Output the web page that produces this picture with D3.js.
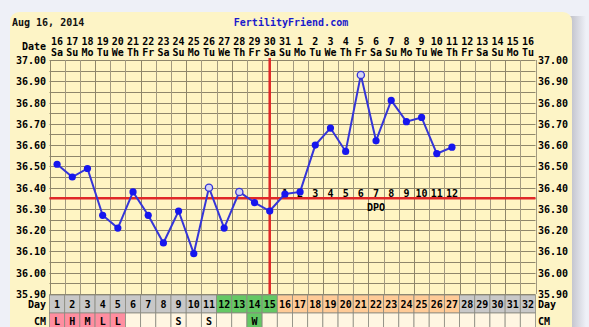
<!DOCTYPE html>
<html>
<head>
<meta charset="utf-8">
<script src="https://cdn.jsdelivr.net/npm/d3@7"></script>
<style>
  html, body { margin: 0; padding: 0; background: #eef0f7; }
  svg { display: block; }
  text { font-family: "DejaVu Sans Mono", monospace; font-weight: bold; font-size: 10px; }
</style>
</head>
<body>
<svg id="chart" width="589" height="327"></svg>
<script>
// Cycle chart data
const chartTitle = "Aug 16, 2014";
const siteName = "FertilityFriend.com";
const dateNums = ["16","17","18","19","20","21","22","23","24","25","26","27","28","29","30","31",
                  "1","2","3","4","5","6","7","8","9","10","11","12","13","14","15","16"];
const weekDays = ["Sa","Su","Mo","Tu","We","Th","Fr","Sa","Su","Mo","Tu","We","Th","Fr","Sa","Su",
                  "Mo","Tu","We","Th","Fr","Sa","Su","Mo","Tu","We","Th","Fr","Sa","Su","Mo","Tu"];
const cycleDays = d3.range(1, 33);
const temps = [36.51, 36.45, 36.49, 36.27, 36.21, 36.38, 36.27, 36.14, 36.29, 36.09,
               36.40, 36.21, 36.38, 36.33, 36.29, 36.37, 36.38, 36.60, 36.68, 36.57,
               36.93, 36.62, 36.81, 36.71, 36.73, 36.56, 36.59];
const hollowDays = [11, 13, 21];
const yTicks = [35.90, 36.00, 36.10, 36.20, 36.30, 36.40, 36.50, 36.60, 36.70, 36.80, 36.90, 37.00];
const coverline = 36.35;
const ovulationDay = 15;
const dpoNums = [1,2,3,4,5,6,7,8,9,10,11,12];
const dpoStartDay = 16;
const dayPhase = ["g","g","g","g","g","g","g","g","g","g","g","f","f","f","f",
                  "l","l","l","l","l","l","l","l","l","l","l","l","g","g","g","g","g"];
const cmCodes = ["L","H","M","L","L","","","","S","","S","","","W","","","","","","","","","","","","","","","","","",""];

const svg = d3.select("#chart");
const W = 589, H = 327;

// panel with soft right shadow
const defs = svg.append("defs");
const sh = defs.append("linearGradient").attr("id", "shadow").attr("x1", 0).attr("x2", 1);
sh.append("stop").attr("offset", 0).attr("stop-color", "#b9bac4");
sh.append("stop").attr("offset", 1).attr("stop-color", "#eef0f7");
svg.append("rect").attr("x", 568).attr("y", 16).attr("width", 18).attr("height", H).attr("fill", "url(#shadow)");
svg.append("rect").attr("x", 10).attr("y", 12).attr("width", 562).attr("height", H + 20)
  .attr("rx", 9).attr("fill", "#fdf4c6");

const x = d3.scaleLinear().domain([0, 32]).range([49.5, 535.5]);
const y = d3.scaleLinear().domain([35.9, 37.0]).range([294, 60]);
const colW = x(1) - x(0);

// header
svg.append("text").attr("x", 12).attr("y", 26).attr("fill", "#111").text(chartTitle);
svg.append("text").attr("x", 291).attr("y", 26).attr("text-anchor", "middle").attr("fill", "#1a1acc").text(siteName);

// date header
svg.append("text").attr("x", 46).attr("y", 50).attr("text-anchor", "end").text("Date");
svg.selectAll(".dnum").data(dateNums).join("text")
  .attr("x", (d, i) => x(i + 0.5)).attr("y", 45).attr("text-anchor", "middle").text(d => d);
svg.selectAll(".wday").data(weekDays).join("text")
  .attr("x", (d, i) => x(i + 0.5)).attr("y", 56).attr("text-anchor", "middle").text(d => d);

// plot background
svg.append("rect").attr("x", x(0)).attr("y", y(37.0)).attr("width", x(32) - x(0)).attr("height", y(35.9) - y(37.0))
  .attr("fill", "#fff5c3");

// grid
const hLines = d3.range(0, 23).map(i => 35.9 + i * 0.05);
svg.append("g").selectAll("line").data(hLines).join("line")
  .attr("x1", x(0)).attr("x2", x(32)).attr("y1", d => Math.round(y(d)) + 0.5).attr("y2", d => Math.round(y(d)) + 0.5)
  .attr("stroke", "#8f876b").attr("stroke-width", 1);
svg.append("g").selectAll("line").data(d3.range(0, 33)).join("line")
  .attr("x1", d => Math.round(x(d)) + 0.5).attr("x2", d => Math.round(x(d)) + 0.5)
  .attr("y1", y(37.0)).attr("y2", y(35.9))
  .attr("stroke", d => (d % 3 === 0 ? "#8f876b" : "#a39b80")).attr("stroke-width", 1);

// y axis labels
const fmt = d3.format(".2f");
svg.selectAll(".yl").data(yTicks).join("text")
  .attr("x", 46).attr("y", d => y(d) + 4).attr("text-anchor", "end").text(d => fmt(d));
svg.selectAll(".yr").data(yTicks).join("text")
  .attr("x", 538).attr("y", d => y(d) + 4).text(d => fmt(d));

// coverline and ovulation line
svg.append("line").attr("x1", x(0)).attr("x2", x(32)).attr("y1", y(coverline)).attr("y2", y(coverline))
  .attr("stroke", "#e02828").attr("stroke-width", 2.5);
svg.append("line").attr("x1", x(ovulationDay - 0.5)).attr("x2", x(ovulationDay - 0.5))
  .attr("y1", y(37.0) - 2).attr("y2", y(35.9))
  .attr("stroke", "#e02828").attr("stroke-width", 2.5);

// DPO labels
svg.selectAll(".dpo").data(dpoNums).join("text")
  .attr("x", (d, i) => x(dpoStartDay - 1 + i + 0.5)).attr("y", 197).attr("text-anchor", "middle").text(d => d);
svg.append("text").attr("x", x(dpoStartDay + 5.5)).attr("y", 211).attr("text-anchor", "middle").text("DPO");

// temperature line
const pts = temps.map((t, i) => ({ day: i + 1, t }));
svg.append("path").datum(pts)
  .attr("d", d3.line().x(d => x(d.day - 0.5)).y(d => y(d.t)))
  .attr("fill", "none").attr("stroke", "#3535d8").attr("stroke-width", 2);
svg.selectAll(".pt").data(pts).join("circle")
  .attr("cx", d => x(d.day - 0.5)).attr("cy", d => y(d.t)).attr("r", 3.6)
  .attr("fill", d => hollowDays.includes(d.day) ? "#d6d6f4" : "#1616ee")
  .attr("stroke", d => hollowDays.includes(d.day) ? "#3535d8" : "none")
  .attr("stroke-width", 1.3);

// day row
const phaseFill = { g: "#c8c8c8", f: "#64c864", l: "#ffcb97" };
const rowY = 295, rowH = 18, cmY = 313, cmH = 16;
svg.selectAll(".dc").data(cycleDays).join("rect")
  .attr("x", d => x(d - 1)).attr("y", rowY).attr("width", colW).attr("height", rowH)
  .attr("fill", (d, i) => phaseFill[dayPhase[i]]).attr("stroke", "#8a8a80").attr("stroke-width", 0.8);
svg.selectAll(".dt").data(cycleDays).join("text")
  .attr("x", d => x(d - 0.5)).attr("y", rowY + 13).attr("text-anchor", "middle").text(d => d);
svg.append("text").attr("x", 46).attr("y", rowY + 13).attr("text-anchor", "end").text("Day");
svg.append("text").attr("x", 538).attr("y", rowY + 13).text("Day");

// cervical mucus row
const cmFill = c => c === "L" || c === "H" || c === "M" ? "#ff8ea0" : c === "W" ? "#64c864" : "#fff6e2";
svg.selectAll(".cc").data(cmCodes).join("rect")
  .attr("x", (d, i) => x(i)).attr("y", cmY).attr("width", colW).attr("height", cmH)
  .attr("fill", d => cmFill(d)).attr("stroke", "#8a8a80").attr("stroke-width", 0.8);
svg.selectAll(".ct").data(cmCodes).join("text")
  .attr("x", (d, i) => x(i + 0.5)).attr("y", cmY + 12).attr("text-anchor", "middle").text(d => d);
svg.append("text").attr("x", 46).attr("y", cmY + 12).attr("text-anchor", "end").text("CM");
svg.append("text").attr("x", 538).attr("y", cmY + 12).text("CM");
</script>
</body>
</html>
